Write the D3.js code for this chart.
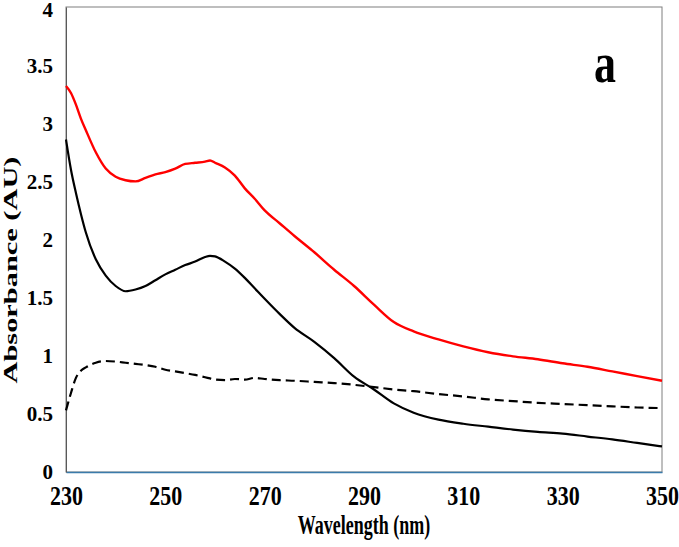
<!DOCTYPE html>
<html>
<head>
<meta charset="utf-8">
<script src="https://cdn.jsdelivr.net/npm/d3@7"></script>
<style>
  body { margin: 0; background: #fff; }
  text { font-family: "Liberation Serif", "Times New Roman", serif; font-weight: bold; fill: #000; }
</style>
</head>
<body>
<div id="chart"></div>
<script>
// wavelength grid (nm)
const wavelength = [230, 231, 232, 233, 234, 236, 238, 240, 242, 244, 246, 248, 250, 252, 254, 256, 258, 259, 260,
  262, 264, 266, 268, 270, 273, 276, 280, 284, 288, 292, 296, 300, 305, 310, 315, 320, 325, 330, 335, 340, 345, 350];

// absorbance
const absRed = [3.32, 3.26, 3.16, 3.04, 2.94, 2.75, 2.61, 2.54, 2.51, 2.50, 2.53, 2.56, 2.58, 2.61, 2.65, 2.66, 2.67, 2.68, 2.66,
  2.62, 2.55, 2.44, 2.35, 2.25, 2.14, 2.03, 1.89, 1.74, 1.60, 1.44, 1.29, 1.21, 1.14, 1.08, 1.03, 0.995, 0.97, 0.935, 0.905, 0.865, 0.825, 0.785];

const absBlack = [2.86, 2.60, 2.40, 2.22, 2.06, 1.83, 1.69, 1.60, 1.555, 1.57, 1.60, 1.65, 1.70, 1.74, 1.78, 1.81, 1.85, 1.86, 1.855,
  1.81, 1.75, 1.67, 1.58, 1.49, 1.36, 1.24, 1.12, 0.98, 0.82, 0.71, 0.59, 0.51, 0.45, 0.415, 0.39, 0.365, 0.345, 0.33, 0.305, 0.28, 0.25, 0.22];

const absDashed = [0.53, 0.68, 0.81, 0.87, 0.90, 0.94, 0.955, 0.95, 0.94, 0.93, 0.92, 0.905, 0.88, 0.865, 0.85, 0.835, 0.815, 0.805, 0.795,
  0.79, 0.80, 0.795, 0.81, 0.80, 0.79, 0.785, 0.775, 0.765, 0.75, 0.73, 0.71, 0.695, 0.67, 0.65, 0.625, 0.61, 0.595, 0.585, 0.575, 0.565, 0.555, 0.55];

const xTicks = [230, 250, 270, 290, 310, 330, 350];
const yTicks = [0, 0.5, 1, 1.5, 2, 2.5, 3, 3.5, 4];

const height = 547,
      width = 679,
      margin = ({ top: 7, right: 17, bottom: 75, left: 66 });

let svg = d3.select("#chart")
    .append("svg")
    .attr("width", width)
    .attr("height", height)
    .attr("viewBox", [0, 0, width, height]);

let x = d3.scaleLinear()
    .domain([230, 350])
    .range([margin.left, width - margin.right]);

let y = d3.scaleLinear()
    .domain([0, 4])
    .range([height - margin.bottom, margin.top]);

// plot frame
svg.append("rect")
    .attr("x", x(230))
    .attr("y", y(4))
    .attr("width", x(350) - x(230))
    .attr("height", y(0) - y(4))
    .attr("fill", "none")
    .attr("stroke", "#7f7f7f")
    .attr("stroke-width", 1);

// x axis (blue baseline, no ticks)
let gx = svg.append("g")
    .attr("transform", `translate(0,${y(0)})`)
    .call(d3.axisBottom(x).tickValues(xTicks).tickSize(0).tickPadding(0));
gx.select(".domain").attr("stroke", "#3b7bab").attr("stroke-width", 1.6);
gx.selectAll(".tick text")
    .attr("y", 0)
    .attr("dy", 0)
    .attr("font-size", 22)
    .attr("font-family", null)
    .attr("transform", "translate(0,33) scale(1,1.2)");

// y axis
let gy = svg.append("g")
    .attr("transform", `translate(${x(230)},0)`)
    .call(d3.axisLeft(y).tickValues(yTicks).tickFormat(d => d).tickSize(0).tickPadding(13));
gy.select(".domain").attr("stroke", "#595959").attr("stroke-width", 1);
gy.selectAll(".tick text")
    .attr("font-size", 21)
    .attr("font-family", null)
    .attr("dy", d => d === 4 ? "0.45em" : "0.33em"); // keep top label inside the page

// curves
const series = [
    { values: absDashed, color: "#000", width: 2.2, dash: "9,5" },
    { values: absBlack, color: "#000", width: 2.2, dash: null },
    { values: absRed, color: "#ff0000", width: 2.4, dash: null }
];

let line = vals => d3.line()
    .x((d, i) => x(wavelength[i]))
    .y(d => y(d))
    .curve(d3.curveMonotoneX)(vals);

svg.selectAll(".curve")
    .data(series)
    .join("path")
    .attr("class", "curve")
    .attr("d", d => line(d.values))
    .attr("fill", "none")
    .attr("stroke", d => d.color)
    .attr("stroke-width", d => d.width)
    .attr("stroke-dasharray", d => d.dash);

// axis titles
svg.append("text")
    .attr("text-anchor", "middle")
    .attr("font-size", 18)
    .attr("transform", `translate(${(x(230) + x(350)) / 2},534) scale(1,1.5)`)
    .text("Wavelength (nm)");

svg.append("text")
    .attr("text-anchor", "middle")
    .attr("font-size", 19)
    .attr("transform", "translate(17,270) rotate(-90) scale(1.6,1)")
    .text("Absorbance  (AU)");

// panel letter
svg.append("text")
    .attr("text-anchor", "middle")
    .attr("font-size", 44)
    .attr("transform", "translate(605,82) scale(1,1.3)")
    .text("a");
</script>
</body>
</html>
